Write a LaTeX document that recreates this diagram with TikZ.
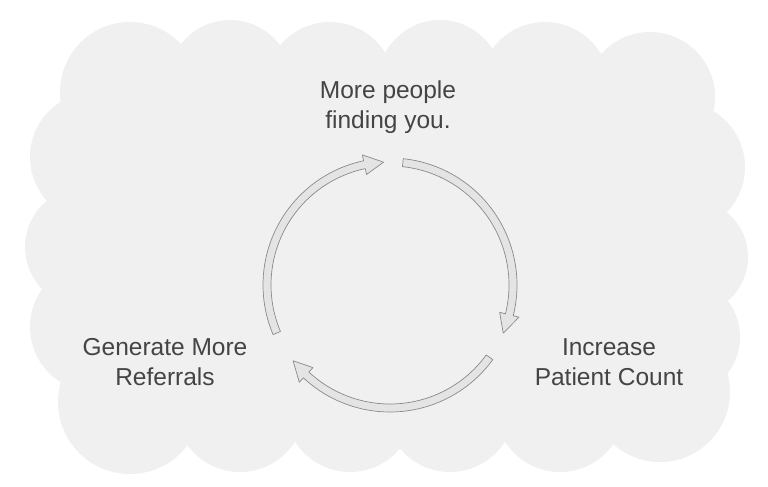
\documentclass[tikz,border=0pt]{standalone}
\usepackage{fontspec}
\setmainfont{Liberation Sans}
\definecolor{cloudgray}{HTML}{F0F0F0}
\definecolor{textgray}{HTML}{444444}
\definecolor{arrowline}{HTML}{8A8A8A}
\definecolor{arrowfill}{HTML}{E4E4E4}
\newcommand{\cyclearrow}[3]{% start angle, end angle, direction (+1 ccw, -1 cw)
  \pgfmathsetmacro{\headstart}{#2-#3*9}
  \draw[arrow shape] (#1:127) arc[start angle=#1, end angle=\headstart, radius=127]
    -- (\headstart:133) -- (#2:123) -- (\headstart:113) -- (\headstart:119)
    arc[start angle=\headstart, end angle=#1, radius=119] -- cycle;
}
\tikzset{
  cloud part/.style={fill=cloudgray, draw=none},
  arrow shape/.style={draw=arrowline, fill=arrowfill, line width=0.7pt, line join=round},
  label text/.style={text=textgray, align=center, font=\fontsize{24.5}{30}\selectfont}
}
\begin{document}
\begin{tikzpicture}[x=1pt,y=1pt]
  \useasboundingbox (0,0) rectangle (768,487);
  % cloud
  \fill[cloud part] (70,60) rectangle (700,420);
  \foreach \cx/\cy/\r in {130/395/70, 230/405/62, 330/400/65, 440/405/62, 545/400/65, 650/390/65,
                          95/330/65, 85/240/60, 95/160/65, 680/320/65, 690/230/58, 680/150/60,
                          130/85/72, 240/80/65, 350/80/65, 450/80/65, 560/80/65, 660/95/70}
    \fill[cloud part] (\cx,\cy) circle (\r);
  % labels
  \node[label text] (top) at (388,380) {More people\\finding you.};
  \node[label text] (left) at (165,125) {Generate More\\Referrals};
  \node[label text] (right) at (609,125) {Increase\\Patient Count};
  % cycle
  \begin{scope}[shift={(390,202)}]
    \cyclearrow{203}{93}{-1}
    \cyclearrow{84}{-23}{-1}
    \cyclearrow{-36}{-142}{-1}
  \end{scope}
\end{tikzpicture}
\end{document}
